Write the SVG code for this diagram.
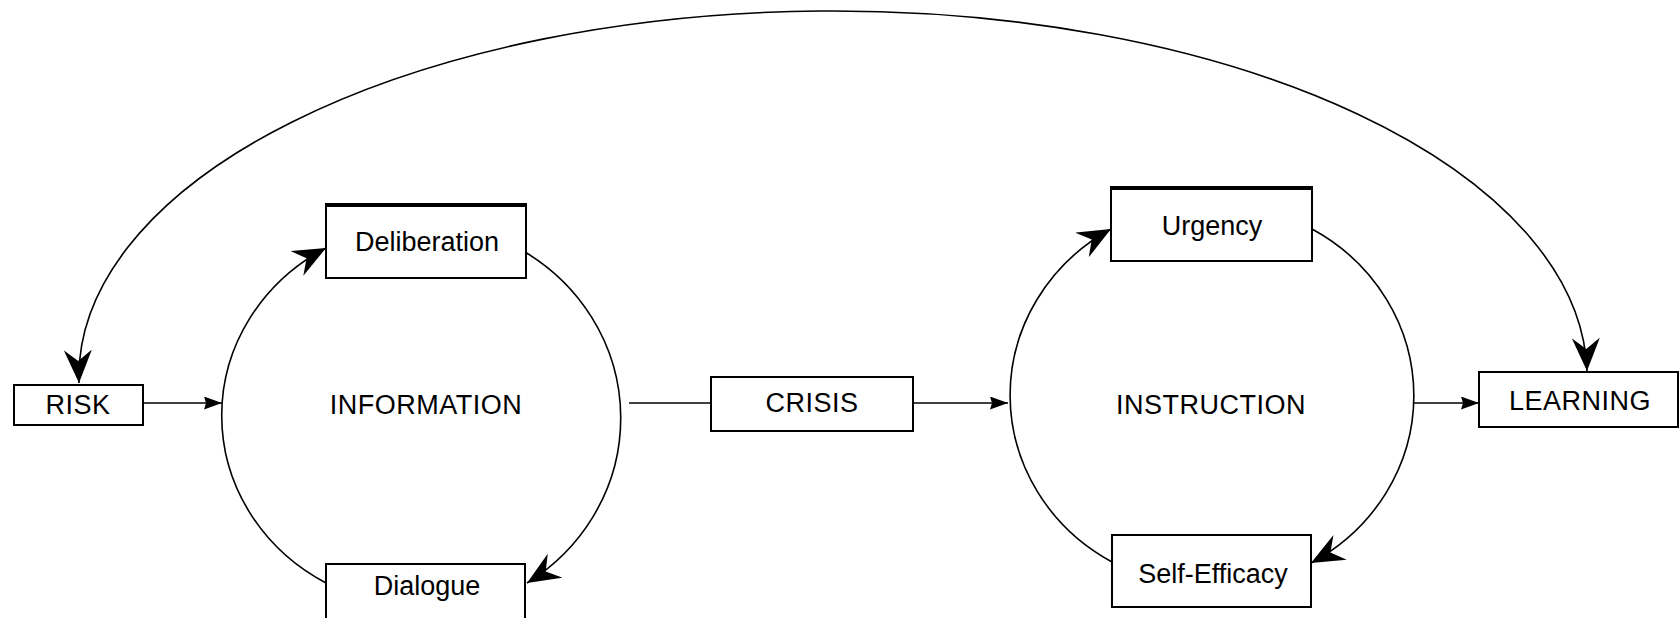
<svg xmlns="http://www.w3.org/2000/svg" width="1679" height="618" viewBox="0 0 1679 618">
<style>
.box{fill:#fff;stroke:#000;stroke-width:2}
.top{stroke:#000;stroke-width:4}
.lbl{font-family:"Liberation Sans",Arial,sans-serif;font-size:27px;fill:#000;text-anchor:middle}
.cap{letter-spacing:0.5px}
.con{fill:none;stroke:#000;stroke-width:1.6}
</style>
<defs>
<marker id="big" markerUnits="userSpaceOnUse" viewBox="0 0 33 28" refX="33" refY="14" markerWidth="33" markerHeight="28" orient="auto-start-reverse">
<path d="M0,0 L33,14 L0,28 L11,14 Z" fill="#000"/>
</marker>
<marker id="small" markerUnits="userSpaceOnUse" viewBox="0 0 18 13" refX="18" refY="6.5" markerWidth="18" markerHeight="13" orient="auto">
<path d="M0,0 L18,6.5 L0,13 L2,6.5 Z" fill="#000"/>
</marker>
</defs>
<rect width="1679" height="618" fill="#fff"/>
<g id="connectors">
<path class="con" d="M79 383 A 754 366 0 0 1 1587 371" marker-start="url(#big)" marker-end="url(#big)"/>
<path class="con" d="M326 583 A 204 192 0 0 1 326 248" marker-end="url(#big)"/>
<path class="con" d="M525 252 A 204 196 0 0 1 527 583" marker-end="url(#big)"/>
<path class="con" d="M1112 562 A 202 192 0 0 1 1111 229" marker-end="url(#big)"/>
<path class="con" d="M1312 229 A 202 192 0 0 1 1311 563" marker-end="url(#big)"/>
<path class="con" d="M143 403 L222 403" marker-end="url(#small)"/>
<path class="con" d="M629 403 L711 403"/>
<path class="con" d="M913 403 L1008 403" marker-end="url(#small)"/>
<path class="con" d="M1413 403 L1479 403" marker-end="url(#small)"/>
</g>
<g id="risk">
<rect class="box" x="14" y="385" width="129" height="40"/>
<text class="lbl cap" x="78" y="414">RISK</text>
</g>
<g id="information">
<text class="lbl cap" x="426" y="414">INFORMATION</text>
</g>
<g id="deliberation">
<rect class="box" x="326" y="204" width="200" height="74"/>
<line class="top" x1="325" y1="205" x2="527" y2="205"/>
<text class="lbl" x="427" y="251">Deliberation</text>
</g>
<g id="dialogue">
<rect class="box" x="326" y="564" width="199" height="60"/>
<text class="lbl" x="427" y="595">Dialogue</text>
</g>
<g id="crisis">
<rect class="box" x="711" y="377" width="202" height="54"/>
<text class="lbl cap" x="812" y="412">CRISIS</text>
</g>
<g id="instruction">
<text class="lbl cap" x="1211" y="414">INSTRUCTION</text>
</g>
<g id="urgency">
<rect class="box" x="1111" y="187" width="201" height="74"/>
<line class="top" x1="1110" y1="188" x2="1313" y2="188"/>
<text class="lbl" x="1212" y="235">Urgency</text>
</g>
<g id="self-efficacy">
<rect class="box" x="1112" y="535" width="199" height="72"/>
<text class="lbl" x="1213" y="583">Self-Efficacy</text>
</g>
<g id="learning">
<rect class="box" x="1479" y="372" width="199" height="55"/>
<text class="lbl cap" x="1580" y="410">LEARNING</text>
</g>
</svg>
